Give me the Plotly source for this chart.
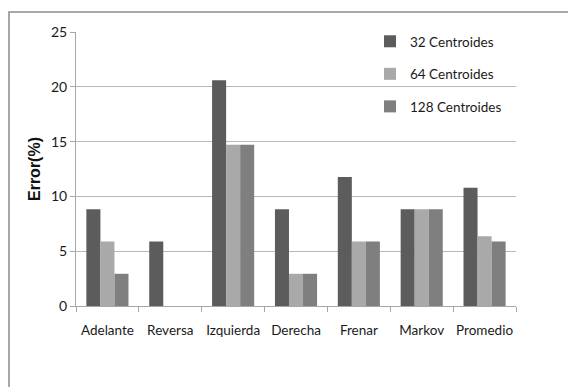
import plotly.graph_objects as go

# Error rates per command for each codebook size
categories = ["Adelante", "Reversa", "Izquierda", "Derecha", "Frenar", "Markov", "Promedio"]
err_32 = [8.82, 5.88, 20.59, 8.82, 11.76, 8.82, 10.78]
err_64 = [5.88, 0.0, 14.71, 2.94, 5.88, 8.82, 6.37]
err_128 = [2.94, 0.0, 14.71, 2.94, 5.88, 8.82, 5.88]
series_names = ["32 Centroides", "64 Centroides", "128 Centroides"]
series_colors = ["#5c5c5c", "#a9a9a9", "#7f7f7f"]
y_ticks = [0, 5, 10, 15, 20, 25]

W, H = 568, 387
L, R, T, B = 76, 52, 32, 81

fig = go.Figure()
for i, (name, vals, col) in enumerate(zip(series_names, [err_32, err_64, err_128], series_colors)):
    fig.add_trace(go.Bar(
        x=categories, y=vals, name=name, legendgroup=f"g{i}",
        marker=dict(color=col, line=dict(width=0)),
    ))

font_family = "Lato, 'Open Sans', sans-serif"

fig.update_layout(
    width=W, height=H,
    margin=dict(l=L, r=R, t=T, b=B, pad=0),
    paper_bgcolor="white", plot_bgcolor="white",
    barmode="group", bargap=0.33, bargroupgap=0,
    font=dict(family=font_family, size=13, color="#1a1a1a"),
    legend=dict(
        x=(370 - L) / (W - L - R), y=1.0 + 6 / (H - T - B), xanchor="left", yanchor="top",
        bgcolor="rgba(0,0,0,0)", font=dict(size=13.5, family=font_family, color="#1a1a1a"),
        tracegroupgap=12, itemwidth=30, traceorder="grouped",
    ),
    xaxis=dict(
        type="category", showgrid=False, showline=True, linecolor="#a6a6a6", linewidth=1,
        ticks="outside", tickson="boundaries", ticklen=5, tickcolor="#a6a6a6",
        tickangle=0, ticklabelstandoff=12,
        tickfont=dict(size=13.5, family=font_family, color="#1a1a1a"),
        fixedrange=True,
    ),
    yaxis=dict(
        range=[0, 25], tickvals=y_ticks, showgrid=True, gridcolor="#b8b8b8", gridwidth=1,
        showline=True, linecolor="#a6a6a6", linewidth=1, zeroline=False,
        ticks="outside", ticklen=5, tickcolor="#a6a6a6",
        tickfont=dict(size=14, family=font_family, color="#1a1a1a"),
        title=dict(text="<b>Error(%)</b>", font=dict(size=16, family="Liberation Sans, Arial, sans-serif", color="#111111"), standoff=6),
        fixedrange=True,
    ),
    shapes=[dict(
        type="rect", xref="paper", yref="paper",
        x0=(9 - L) / (W - L - R), x1=(W + 5 - L) / (W - L - R),
        y0=-(H + 5 - (H - B)) / (H - T - B), y1=1 + (T - 12) / (H - T - B),
        line=dict(color="#8c8c8c", width=1.5), fillcolor="rgba(0,0,0,0)", layer="below",
    )],
)

fig.write_html("out.html")
